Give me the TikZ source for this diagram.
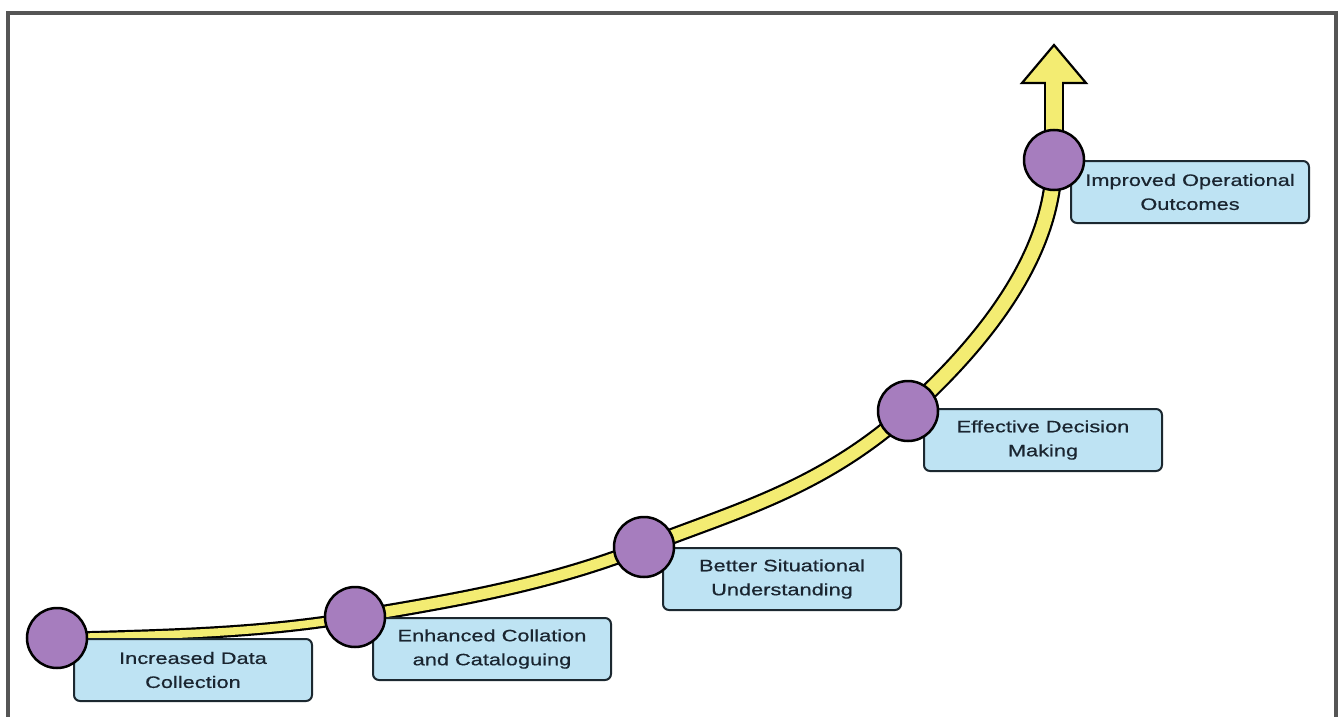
\documentclass[tikz,border=0pt]{standalone}
\usepackage{fontspec}
\setmainfont{Liberation Sans}
\newfontfamily\boxfont[FakeStretch=1.32,FakeBold=0.6]{Liberation Sans}
\usetikzlibrary{calc}
\definecolor{purp}{HTML}{A67DBE}
\definecolor{boxfill}{HTML}{BEE3F3}
\definecolor{boxline}{HTML}{1C2830}
\definecolor{txt}{HTML}{1A2530}
\definecolor{road}{HTML}{F3EC72}
\definecolor{frame}{HTML}{555555}
\pgfdeclarelayer{bg}
\pgfdeclarelayer{mid}
\pgfsetlayers{bg,mid,main}
\begin{document}
\begin{tikzpicture}[x=1pt,y=-1pt,
  stage/.style={circle, draw=black, line width=2.5pt, fill=purp, minimum size=60pt, inner sep=0pt},
  infobox/.style={draw=boxline, line width=2pt, fill=boxfill, rounded corners=6pt,
    minimum width=238pt, minimum height=62pt, align=center, inner sep=0pt,
    font=\boxfont\fontsize{16.5}{24}\selectfont, text=txt, anchor=north west},
  roadout/.style={draw=black, line width=#1, line cap=butt},
  roadin/.style={draw=road, line width=#1, line cap=butt},
]
\useasboundingbox (0,0) rectangle (1338,717);
% frame
\draw[frame, line width=4pt] (8,717) -- (8,13) -- (1336,13) -- (1336,717);

% stages
\node[stage] (c1) at (57,638) {};
\node[stage] (c2) at (355,617) {};
\node[stage] (c3) at (644,547) {};
\node[stage] (c4) at (908,411) {};
\node[stage] (c5) at (1054,160) {};
\coordinate (base) at (1054,83);
\coordinate (tip) at (1054,45);
\coordinate (basein) at (1054,78);

% boxes
\begin{pgfonlayer}{mid}
\node[infobox] (b1) at (73,638) {Increased Data\\Collection};
\node[infobox] (b2) at (372,617) {Enhanced Collation\\and Cataloguing};
\node[infobox] (b3) at (662,547) {Better Situational\\Understanding};
\node[infobox] (b4) at (923,408) {Effective Decision\\Making};
\node[infobox] (b5) at (1070,160) {Improved Operational\\Outcomes};
\end{pgfonlayer}

% road
\begin{pgfonlayer}{bg}
\fill[white] (0,0) rectangle (1338,717);
\draw[roadout=12pt] (c1.center) .. controls (156,635) and (256,634) .. (c2.center);
\draw[roadout=15pt] (c2.center) .. controls (451,601) and (548,585) .. (c3.center);
\draw[roadout=16.5pt] (c3.center) .. controls (732,512) and (820,490) .. (c4.center);
\draw[roadout=18pt] (c4.center) .. controls (980,346) and (1054,257) .. (c5.center);
\draw[roadout=20pt] (c5.center) -- (base);
\draw[fill=road, draw=black, line width=2.2pt, line join=miter]
  ($(base)+(-32,0)$) -- (tip) -- ($(base)+(32,0)$) -- cycle;
\draw[roadin=7.6pt] (c1.center) .. controls (156,635) and (256,634) .. (c2.center);
\draw[roadin=10.6pt] (c2.center) .. controls (451,601) and (548,585) .. (c3.center);
\draw[roadin=12.1pt] (c3.center) .. controls (732,512) and (820,490) .. (c4.center);
\draw[roadin=13.6pt] (c4.center) .. controls (980,346) and (1054,257) .. (c5.center);
\draw[roadin=15.6pt] (c5.center) -- (basein);
\end{pgfonlayer}
\end{tikzpicture}
\end{document}
